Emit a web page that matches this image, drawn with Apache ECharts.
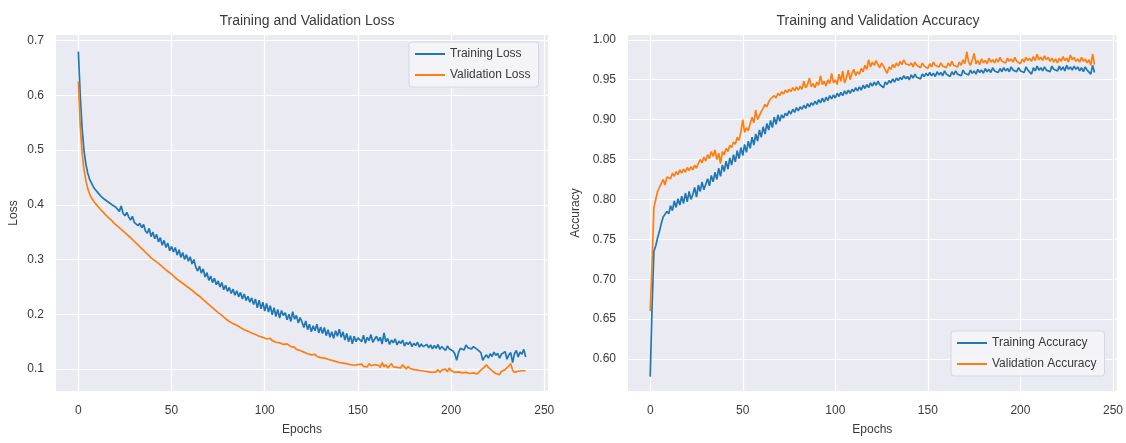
<!DOCTYPE html>
<html>
<head>
<meta charset="utf-8">
<script src="https://cdn.jsdelivr.net/npm/echarts@6/dist/echarts.min.js"></script>
<style>
  html, body { margin: 0; padding: 0; background: #fff; }
  #chart { width: 1126px; height: 443px; }
</style>
</head>
<body>
<div id="chart"></div>
<script>
// epochs 0..240
const epochs = Array.from({ length: 241 }, (_, i) => i)

const trainLoss = [
  0.680, 0.600, 0.540, 0.500, 0.475, 0.458, 0.447, 0.440, 0.433, 0.428, 0.424,
  0.420, 0.416, 0.418, 0.410, 0.412, 0.405, 0.408, 0.400, 0.403, 0.396,
  0.396, 0.388, 0.398, 0.384, 0.380, 0.386, 0.378, 0.372, 0.379, 0.368,
  0.371, 0.362, 0.366, 0.358, 0.364, 0.352, 0.348, 0.357, 0.342, 0.350,
  0.338, 0.346, 0.332, 0.340, 0.326, 0.335, 0.322, 0.330, 0.316, 0.324,
  0.314, 0.322, 0.308, 0.318, 0.304, 0.313, 0.300, 0.309, 0.297, 0.305,
  0.292, 0.300, 0.286, 0.279, 0.288, 0.275, 0.283, 0.268, 0.276, 0.262,
  0.270, 0.258, 0.266, 0.254, 0.261, 0.250, 0.258, 0.245, 0.253, 0.242,
  0.249, 0.238, 0.246, 0.235, 0.243, 0.232, 0.240, 0.228, 0.237, 0.225,
  0.233, 0.222, 0.230, 0.218, 0.228, 0.212, 0.226, 0.210, 0.222, 0.206,
  0.220, 0.204, 0.216, 0.199, 0.212, 0.196, 0.209, 0.193, 0.207, 0.198,
  0.203, 0.190, 0.200, 0.187, 0.205, 0.191, 0.198, 0.184, 0.194, 0.186,
  0.176, 0.188, 0.172, 0.182, 0.168, 0.179, 0.170, 0.182, 0.166, 0.177,
  0.165, 0.176, 0.161, 0.172, 0.158, 0.168, 0.156, 0.170, 0.160, 0.173,
  0.158, 0.168, 0.153, 0.165, 0.150, 0.161, 0.146, 0.160, 0.150, 0.157,
  0.160, 0.150, 0.162, 0.147, 0.158, 0.152, 0.163, 0.149, 0.155, 0.160,
  0.151, 0.158, 0.146, 0.166, 0.150, 0.156, 0.145, 0.153, 0.148, 0.155,
  0.144, 0.151, 0.147, 0.153, 0.142, 0.149, 0.145, 0.150, 0.141, 0.147,
  0.143, 0.149, 0.140, 0.146, 0.141, 0.138, 0.145, 0.139, 0.144, 0.137,
  0.143, 0.138, 0.145, 0.136, 0.141, 0.139, 0.134, 0.142, 0.137, 0.140,
  0.133, 0.128, 0.116, 0.130, 0.138, 0.141, 0.135, 0.144, 0.139, 0.142,
  0.137, 0.141, 0.138, 0.136, 0.134, 0.130, 0.116, 0.122, 0.126, 0.120,
  0.128, 0.123, 0.131, 0.125, 0.129, 0.120, 0.127, 0.124, 0.132, 0.118,
  0.126, 0.130, 0.112, 0.128, 0.134, 0.122, 0.131, 0.127, 0.136, 0.122
]

const valLoss = [
  0.625, 0.545, 0.495, 0.465, 0.445, 0.430, 0.420, 0.413, 0.408, 0.403, 0.399,
  0.395, 0.391, 0.388, 0.384, 0.381, 0.377, 0.374, 0.371, 0.367, 0.364,
  0.361, 0.358, 0.355, 0.352, 0.349, 0.346, 0.343, 0.340, 0.337, 0.333,
  0.330, 0.327, 0.323, 0.320, 0.317, 0.313, 0.310, 0.307, 0.303, 0.300,
  0.298, 0.295, 0.293, 0.290, 0.287, 0.284, 0.281, 0.279, 0.276, 0.273,
  0.270, 0.267, 0.264, 0.262, 0.259, 0.257, 0.254, 0.251, 0.249, 0.246,
  0.244, 0.241, 0.238, 0.236, 0.233, 0.230, 0.227, 0.224, 0.221, 0.218,
  0.215, 0.212, 0.209, 0.206, 0.203, 0.200, 0.198, 0.195, 0.192, 0.190,
  0.187, 0.185, 0.183, 0.185, 0.180, 0.178, 0.176, 0.174, 0.172, 0.170,
  0.169, 0.167, 0.166, 0.164, 0.163, 0.162, 0.160, 0.159, 0.158, 0.157,
  0.155, 0.153, 0.156, 0.152, 0.150, 0.149, 0.147, 0.148, 0.146, 0.145,
  0.144, 0.146, 0.143, 0.141, 0.144, 0.140, 0.136, 0.138, 0.134, 0.132,
  0.131, 0.129, 0.128, 0.130, 0.126, 0.125, 0.127, 0.123, 0.124, 0.121,
  0.122, 0.120, 0.121, 0.118, 0.119, 0.116, 0.118, 0.114, 0.115, 0.112,
  0.113, 0.111, 0.114, 0.110, 0.112, 0.108, 0.111, 0.107, 0.110, 0.108,
  0.106, 0.109, 0.105, 0.108, 0.104, 0.110, 0.106, 0.104, 0.108, 0.105,
  0.107, 0.103, 0.112, 0.104, 0.108, 0.102, 0.106, 0.110, 0.104, 0.107,
  0.103, 0.106, 0.102, 0.108, 0.104, 0.100, 0.105, 0.101, 0.103, 0.099,
  0.102, 0.098, 0.101, 0.097, 0.100, 0.096, 0.099, 0.095, 0.098, 0.094,
  0.097, 0.095, 0.099, 0.094, 0.098, 0.096, 0.100, 0.095, 0.102, 0.097,
  0.099, 0.094, 0.097, 0.095, 0.098, 0.093, 0.096, 0.094, 0.097, 0.092,
  0.095, 0.093, 0.096, 0.091, 0.094, 0.098, 0.101, 0.104, 0.108, 0.103,
  0.100, 0.097, 0.094, 0.092, 0.095, 0.090, 0.096, 0.093, 0.099, 0.102,
  0.106, 0.110, 0.098, 0.094, 0.097, 0.096, 0.098, 0.097, 0.096, 0.097
]

const trainAcc = [
  0.578, 0.665, 0.735, 0.742, 0.752, 0.760, 0.770, 0.778, 0.776, 0.785, 0.782,
  0.792, 0.786, 0.798, 0.790, 0.801, 0.793, 0.804, 0.795, 0.808, 0.797,
  0.810, 0.800, 0.806, 0.815, 0.803, 0.818, 0.810, 0.822, 0.812, 0.819,
  0.826, 0.817, 0.830, 0.822, 0.834, 0.825, 0.839, 0.829, 0.843, 0.835,
  0.848, 0.838, 0.852, 0.843, 0.856, 0.847, 0.861, 0.851, 0.865, 0.855,
  0.869, 0.859, 0.873, 0.864, 0.878, 0.868, 0.882, 0.873, 0.887, 0.878,
  0.891, 0.882, 0.895, 0.887, 0.899, 0.890, 0.903, 0.894, 0.906, 0.898,
  0.906, 0.902, 0.908, 0.905, 0.911, 0.907, 0.913, 0.909, 0.915, 0.911,
  0.916, 0.913, 0.918, 0.914, 0.920, 0.916, 0.921, 0.918, 0.923, 0.919,
  0.925, 0.921, 0.927, 0.922, 0.928, 0.924, 0.930, 0.926, 0.931, 0.927,
  0.933, 0.929, 0.934, 0.930, 0.936, 0.932, 0.937, 0.933, 0.938, 0.935,
  0.940, 0.936, 0.941, 0.937, 0.943, 0.939, 0.944, 0.940, 0.946, 0.942,
  0.947, 0.943, 0.948, 0.944, 0.945, 0.940, 0.947, 0.944, 0.949, 0.946,
  0.951, 0.947, 0.952, 0.949, 0.953, 0.950, 0.955, 0.951, 0.954, 0.950,
  0.956, 0.952, 0.957, 0.953, 0.955, 0.951, 0.957, 0.954, 0.958, 0.955,
  0.959, 0.955, 0.958, 0.954, 0.960, 0.956, 0.959, 0.955, 0.961, 0.957,
  0.958, 0.954, 0.960, 0.956, 0.961, 0.957, 0.959, 0.955, 0.962, 0.958,
  0.960, 0.956, 0.962, 0.958, 0.961, 0.957, 0.963, 0.959, 0.962, 0.958,
  0.964, 0.960, 0.963, 0.959, 0.965, 0.961, 0.963, 0.959, 0.964, 0.960,
  0.965, 0.961, 0.964, 0.960, 0.966, 0.962, 0.964, 0.960, 0.965, 0.961,
  0.963, 0.959, 0.966, 0.962, 0.964, 0.957, 0.965, 0.961, 0.967, 0.962,
  0.965, 0.961, 0.966, 0.962, 0.964, 0.960, 0.967, 0.963, 0.965, 0.961,
  0.967, 0.962, 0.966, 0.961, 0.968, 0.963, 0.966, 0.962, 0.967, 0.963,
  0.966, 0.961, 0.965, 0.960, 0.966, 0.962, 0.964, 0.957, 0.968, 0.959
]

const valAcc = [
  0.660, 0.720, 0.790, 0.800, 0.810, 0.815, 0.820, 0.825, 0.818, 0.828, 0.830,
  0.826, 0.833, 0.829, 0.835, 0.831, 0.837, 0.833, 0.838, 0.834, 0.840,
  0.836, 0.841, 0.837, 0.843, 0.839, 0.845, 0.850, 0.846, 0.853, 0.848,
  0.856, 0.851, 0.860, 0.854, 0.862, 0.850, 0.858, 0.845, 0.860, 0.856,
  0.864, 0.860, 0.868, 0.865, 0.872, 0.869, 0.878, 0.874, 0.885, 0.900,
  0.884, 0.890, 0.886, 0.895, 0.903, 0.896, 0.912, 0.900, 0.905, 0.910,
  0.914, 0.919, 0.916, 0.922, 0.926, 0.924, 0.930, 0.927, 0.933, 0.930,
  0.935, 0.932, 0.937, 0.934, 0.938, 0.935, 0.940, 0.936, 0.941, 0.937,
  0.942, 0.938, 0.948, 0.940, 0.944, 0.952, 0.941, 0.945, 0.940, 0.947,
  0.943, 0.955, 0.944, 0.948, 0.942, 0.950, 0.945, 0.958, 0.946, 0.950,
  0.944, 0.957, 0.948, 0.961, 0.946, 0.952, 0.962, 0.950, 0.958, 0.963,
  0.955, 0.960, 0.957, 0.964, 0.960, 0.968, 0.963, 0.975, 0.966, 0.972,
  0.968, 0.974, 0.969, 0.965, 0.971, 0.967, 0.962, 0.958, 0.966, 0.963,
  0.969, 0.965, 0.971, 0.967, 0.973, 0.969, 0.975, 0.970, 0.972, 0.968,
  0.971, 0.966, 0.972, 0.968, 0.970, 0.965, 0.971, 0.967, 0.969, 0.964,
  0.970, 0.966, 0.972, 0.968, 0.970, 0.966, 0.971, 0.967, 0.969, 0.965,
  0.971, 0.967, 0.973, 0.968, 0.970, 0.966, 0.972, 0.968, 0.975, 0.970,
  0.985, 0.972, 0.968, 0.975, 0.983, 0.970, 0.974, 0.969, 0.976, 0.971,
  0.974, 0.970, 0.977, 0.972, 0.975, 0.971, 0.976, 0.972, 0.978, 0.973,
  0.975, 0.971, 0.977, 0.973, 0.976, 0.972, 0.978, 0.973, 0.975, 0.970,
  0.976, 0.972, 0.978, 0.974, 0.977, 0.973, 0.979, 0.974, 0.982, 0.975,
  0.978, 0.974, 0.980, 0.975, 0.978, 0.973, 0.977, 0.972, 0.976, 0.971,
  0.977, 0.973, 0.979, 0.974, 0.977, 0.972, 0.981, 0.975, 0.978, 0.973,
  0.976, 0.972, 0.978, 0.973, 0.976, 0.971, 0.975, 0.968, 0.982, 0.969
]

const xTicks = [0, 50, 100, 150, 200, 250]
const lossTicks = [0.1, 0.2, 0.3, 0.4, 0.5, 0.6, 0.7]
const accTicks = [0.60, 0.65, 0.70, 0.75, 0.80, 0.85, 0.90, 0.95, 1.00]

const BLUE = '#1f77b4'
const ORANGE = '#ff7f0e'
const TXT = '#3a3a3a'
const FONT = 'Liberation Sans, Arial, sans-serif'

const pairs = (ys) => epochs.map((e, i) => [e, ys[i]])

const chart = echarts.init(document.getElementById('chart'))

function xAxis(gridIndex) {
  return {
    type: 'value', gridIndex: gridIndex,
    min: -12, max: 252,
    name: 'Epochs', nameLocation: 'middle', nameGap: 33,
    nameTextStyle: { color: TXT, fontSize: 12, fontFamily: FONT },
    axisLine: { show: false },
    axisTick: { show: false, customValues: xTicks },
    axisLabel: { customValues: xTicks, color: TXT, fontSize: 12, fontFamily: FONT, margin: 14 },
    splitLine: { show: true, lineStyle: { color: '#ffffff', width: 1.2 } }
  }
}

function yAxis(gridIndex, name, min, max, ticks, digits, gap) {
  return {
    type: 'value', gridIndex: gridIndex,
    min: min, max: max,
    name: name, nameLocation: 'middle', nameGap: gap,
    nameTextStyle: { color: TXT, fontSize: 12, fontFamily: FONT },
    axisLine: { show: false },
    axisTick: { show: false, customValues: ticks },
    axisLabel: {
      customValues: ticks, color: TXT, fontSize: 12, fontFamily: FONT, margin: 12,
      formatter: (v) => v.toFixed(digits)
    },
    splitLine: { show: true, lineStyle: { color: '#ffffff', width: 1.2 } }
  }
}

function line(name, ys, color, xi, yi) {
  return {
    name: name, type: 'line',
    xAxisIndex: xi, yAxisIndex: yi,
    data: pairs(ys),
    showSymbol: false, symbol: 'none',
    lineStyle: { color: color, width: 1.7 },
    itemStyle: { color: color },
    emphasis: { disabled: true }
  }
}

const legendBase = {
  orient: 'vertical',
  icon: 'rect', itemWidth: 30, itemHeight: 2, itemGap: 9,
  backgroundColor: 'rgba(244,244,249,0.85)',
  borderColor: '#d6d6de', borderWidth: 1, borderRadius: 3,
  padding: [6, 8, 6, 6],
  textStyle: { color: TXT, fontSize: 12, fontFamily: FONT }
}

let option = {
  animation: false,
  backgroundColor: '#ffffff',
  title: [
    {
      text: 'Training and Validation Loss', left: 302, top: 9, textAlign: 'center',
      textStyle: { color: TXT, fontSize: 14, fontWeight: 'normal', fontFamily: FONT }
    },
    {
      text: 'Training and Validation Accuracy', left: 873, top: 9, textAlign: 'center',
      textStyle: { color: TXT, fontSize: 14, fontWeight: 'normal', fontFamily: FONT }
    }
  ],
  legend: [
    Object.assign({}, legendBase, { data: ['Training Loss', 'Validation Loss'], left: 409, top: 42 }),
    Object.assign({}, legendBase, { data: ['Training Accuracy', 'Validation Accuracy'], left: 951, top: 331 })
  ],
  grid: [
    { left: 56, top: 35, width: 492, height: 356, show: true, backgroundColor: '#EAEAF2', borderWidth: 0 },
    { left: 628, top: 35, width: 491, height: 356, show: true, backgroundColor: '#EAEAF2', borderWidth: 0 }
  ],
  xAxis: [xAxis(0), xAxis(1)],
  yAxis: [
    yAxis(0, 'Loss', 0.06, 0.71, lossTicks, 1, 36),
    yAxis(1, 'Accuracy', 0.56, 1.006, accTicks, 2, 46)
  ],
  series: [
    line('Training Loss', trainLoss, BLUE, 0, 0),
    line('Validation Loss', valLoss, ORANGE, 0, 0),
    line('Training Accuracy', trainAcc, BLUE, 1, 1),
    line('Validation Accuracy', valAcc, ORANGE, 1, 1)
  ]
}

chart.setOption(option)
</script>
</body>
</html>
